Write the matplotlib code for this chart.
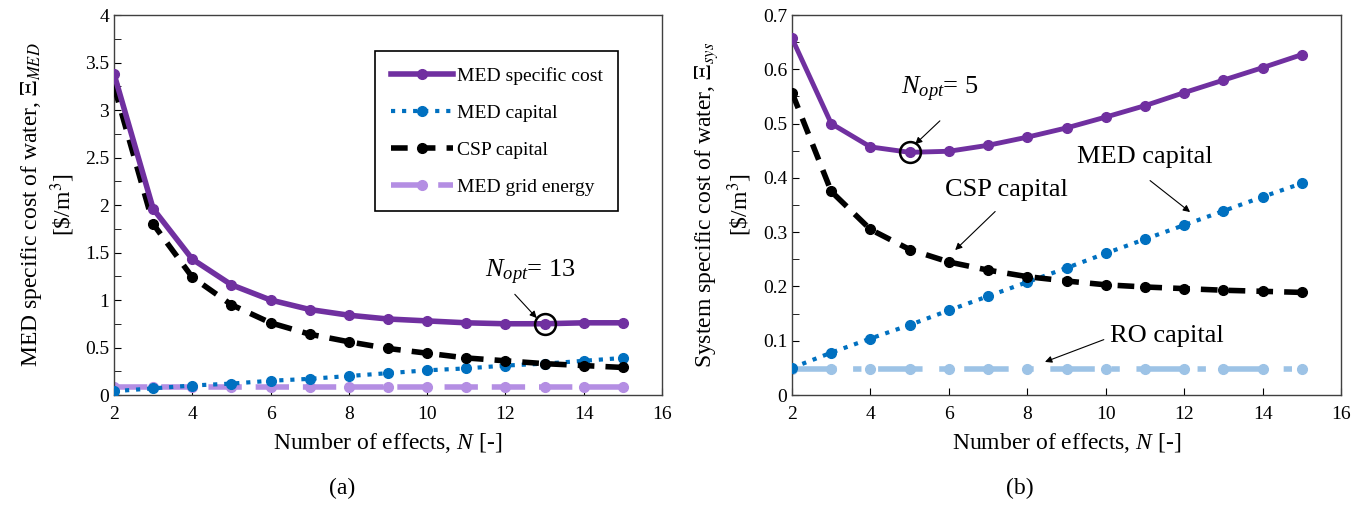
import numpy as np
import matplotlib.pyplot as plt

plt.rcParams['font.family'] = ['Liberation Serif', 'DejaVu Serif']
plt.rcParams['mathtext.fontset'] = 'custom'
plt.rcParams['mathtext.rm'] = 'Liberation Serif'
plt.rcParams['mathtext.it'] = 'Liberation Serif:italic'
plt.rcParams['mathtext.bf'] = 'Liberation Serif:bold'

# number of effects
N = [2, 3, 4, 5, 6, 7, 8, 9, 10, 11, 12, 13, 14, 15]

# (a) MED specific cost breakdown
med_total_a = [3.38, 1.96, 1.43, 1.16, 1.00, 0.90, 0.84, 0.80, 0.78, 0.76, 0.75, 0.75, 0.76, 0.76]
med_cap_a = [0.04, 0.07, 0.10, 0.12, 0.15, 0.17, 0.20, 0.23, 0.26, 0.28, 0.31, 0.33, 0.36, 0.39]
csp_cap_a = [3.25, 1.80, 1.24, 0.95, 0.76, 0.64, 0.56, 0.49, 0.44, 0.39, 0.36, 0.33, 0.31, 0.29]
grid_a = [0.08, 0.08, 0.08, 0.08, 0.08, 0.08, 0.08, 0.08, 0.08, 0.08, 0.08, 0.08, 0.08, 0.08]

# (b) system specific cost breakdown
sys_total_b = [0.657, 0.500, 0.457, 0.447, 0.449, 0.460, 0.475, 0.492, 0.512, 0.533, 0.557, 0.580, 0.603, 0.627]
csp_cap_b = [0.557, 0.375, 0.305, 0.268, 0.245, 0.230, 0.218, 0.210, 0.203, 0.199, 0.196, 0.193, 0.191, 0.189]
med_cap_b = [0.050, 0.078, 0.104, 0.129, 0.156, 0.182, 0.208, 0.234, 0.261, 0.287, 0.313, 0.339, 0.365, 0.390]
ro_cap_b = [0.048, 0.048, 0.048, 0.048, 0.048, 0.048, 0.048, 0.048, 0.048, 0.048, 0.048, 0.048, 0.048, 0.048]

PURPLE = '#7030A0'
BLUE = '#0070C0'
LILAC = '#B48EE3'
LBLUE = '#9DC3E6'

fig = plt.figure(figsize=(13.59, 5.12), dpi=100)
ax1 = fig.add_axes([0.0839, 0.2285, 0.4032, 0.7422])
ax2 = fig.add_axes([0.5828, 0.2285, 0.4040, 0.7422])

ms = 7
arw = dict(arrowstyle='-|>', color='black', lw=0.8, mutation_scale=10, shrinkA=0, shrinkB=0)

# ---- (a)
l_grid, = ax1.plot(N, grid_a, color=LILAC, lw=4, dashes=(6, 2.5), marker='o', ms=ms, zorder=2)
l_med, = ax1.plot(N, med_cap_a, color=BLUE, lw=3, linestyle=':', marker='o', ms=ms, zorder=3)
l_csp, = ax1.plot(N, csp_cap_a, color='black', lw=4, dashes=(3, 2), marker='o', ms=ms, zorder=4)
l_tot, = ax1.plot(N, med_total_a, color=PURPLE, lw=4, marker='o', ms=ms, zorder=5)
ax1.plot(13, 0.75, 'o', ms=15, mfc='none', mec='black', mew=1.8, zorder=6)

leg = ax1.legend([l_tot, l_med, l_csp, l_grid],
                 ['MED specific cost', 'MED capital', 'CSP capital', 'MED grid energy'],
                 loc='upper right', bbox_to_anchor=(0.938, 0.93),
                 fontsize=14, handlelength=3.2, labelspacing=1.0, handletextpad=0.2,
                 fancybox=False, edgecolor='black', framealpha=1, borderpad=0.8)
leg.get_frame().set_linewidth(1.2)

ax1.set_xlim(2, 16)
ax1.set_ylim(0, 4)
ax1.set_xticks(np.arange(2, 17, 2))
ax1.set_yticks(np.arange(0, 4.01, 0.5))
ax1.set_yticks(np.arange(0, 4.01, 0.25), minor=True)
ax1.set_yticklabels(['0', '0.5', '1', '1.5', '2', '2.5', '3', '3.5', '4'])
ax1.set_xlabel('Number of effects, $N$ [-]', fontsize=17, labelpad=6)
ax1.set_ylabel('MED specific cost of water, $\\mathit{Ξ}_{MED}$\n[\\$/m$^3$]', fontsize=17,
               labelpad=6, math_fontfamily='stix')
ax1.text(12.65, 1.29, '$N_{opt}$= 13', fontsize=19, ha='center', va='center')
ax1.annotate('', xy=(12.8, 0.81), xytext=(12.24, 1.06), arrowprops=arw)

# ---- (b)
ax2.plot(N, ro_cap_b, color=LBLUE, lw=4, dashes=(8, 3, 1.5, 3), marker='o', ms=ms, zorder=2)
ax2.plot(N, med_cap_b, color=BLUE, lw=3, linestyle=':', marker='o', ms=ms, zorder=3)
ax2.plot(N, csp_cap_b, color='black', lw=4, dashes=(3, 2), marker='o', ms=ms, zorder=4)
ax2.plot(N, sys_total_b, color=PURPLE, lw=3.5, marker='o', ms=ms, zorder=5)
ax2.plot(5, 0.447, 'o', ms=15, mfc='none', mec='black', mew=1.8, zorder=6)

ax2.set_xlim(2, 16)
ax2.set_ylim(0, 0.7)
ax2.set_xticks(np.arange(2, 17, 2))
ax2.set_yticks(np.arange(0, 0.71, 0.1))
ax2.set_yticks(np.arange(0, 0.71, 0.05), minor=True)
ax2.set_yticklabels(['0', '0.1', '0.2', '0.3', '0.4', '0.5', '0.6', '0.7'])
ax2.set_xlabel('Number of effects, $N$ [-]', fontsize=17, labelpad=6)
ax2.set_ylabel('System specific cost of water, $\\mathit{Ξ}_{sys}$\n[\\$/m$^3$]', fontsize=17,
               labelpad=6, math_fontfamily='stix')

ax2.text(5.77, 0.562, '$N_{opt}$= 5', fontsize=19, ha='center', va='center')
ax2.annotate('', xy=(5.14, 0.462), xytext=(5.77, 0.505), arrowprops=arw)
ax2.text(11.0, 0.438, 'MED capital', fontsize=19, ha='center', va='center')
ax2.annotate('', xy=(12.15, 0.337), xytext=(11.13, 0.395), arrowprops=arw)
ax2.text(7.48, 0.378, 'CSP capital', fontsize=19, ha='center', va='center')
ax2.annotate('', xy=(6.16, 0.267), xytext=(7.18, 0.338), arrowprops=arw)
ax2.text(11.56, 0.109, 'RO capital', fontsize=19, ha='center', va='center')
ax2.annotate('', xy=(8.45, 0.061), xytext=(9.95, 0.102), arrowprops=arw)

for ax in (ax1, ax2):
    ax.tick_params(axis='both', which='both', direction='in', labelsize=14)
    ax.tick_params(axis='y', which='both', left=True, length=5)
    ax.tick_params(axis='x', which='major', length=5, pad=8)
    for s in ax.spines.values():
        s.set_linewidth(1.0)
        s.set_color('#404040')

fig.text(0.2517, 0.035, '(a)', fontsize=17, ha='center')
fig.text(0.7506, 0.035, '(b)', fontsize=17, ha='center')

fig.savefig('out.png', dpi=100)
